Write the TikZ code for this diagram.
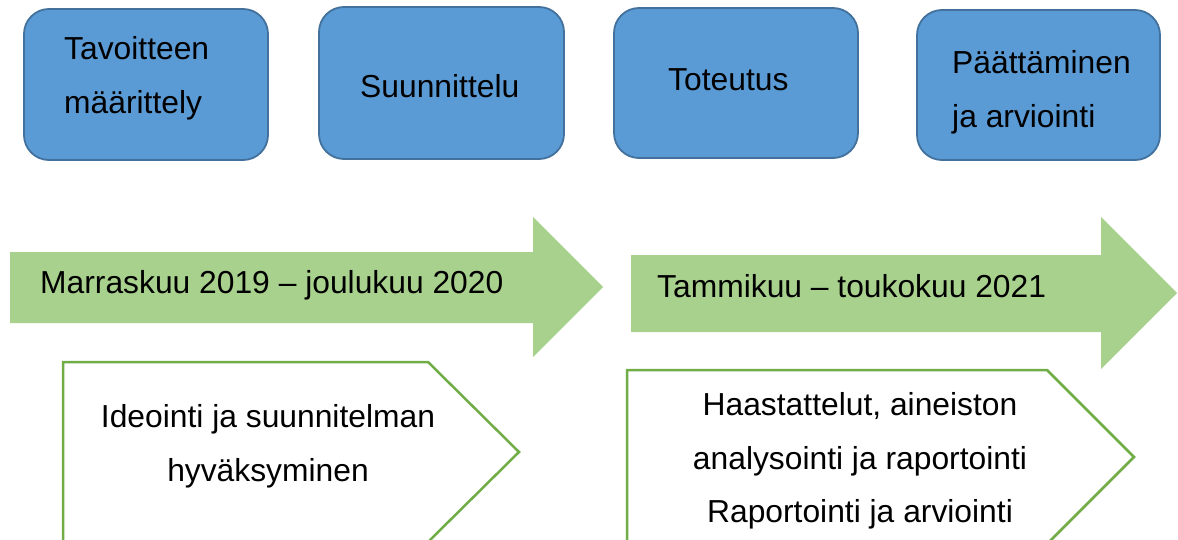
\documentclass[tikz,border=0pt]{standalone}
\usepackage{fontspec}
\setmainfont{Liberation Sans}
\definecolor{boxblue}{HTML}{5B9BD5}
\definecolor{boxedge}{HTML}{41719C}
\definecolor{arrowgreen}{HTML}{A9D18E}
\definecolor{pentedge}{HTML}{70AD47}
\begin{document}
\begin{tikzpicture}[x=1pt,y=-1pt,
  phase/.style={draw=boxedge, fill=boxblue, line width=1.8pt, rounded corners=25pt, inner sep=0pt},
  txt/.style={font=\fontsize{31.8}{36}\selectfont, inner sep=0pt, text=black},
  ltxt/.style={txt, anchor=base west},
  ctxt/.style={txt, anchor=base},
  timearrow/.style={fill=arrowgreen},
  pent/.style={draw=pentedge, fill=white, line width=2.5pt, line join=miter}]
\useasboundingbox (0,0) rectangle (1178,540);
\clip (0,0) rectangle (1178,540);

% phase boxes
\node[phase, minimum width=244pt, minimum height=151pt] (b1) at (146,84.5) {};
\node[phase, minimum width=245pt, minimum height=152pt] (b2) at (441.5,83) {};
\node[phase, minimum width=244pt, minimum height=150pt] (b3) at (736,83) {};
\node[phase, minimum width=243pt, minimum height=150pt] (b4) at (1038.5,85) {};

\node[ltxt] (t1a) at (64,60) {Tavoitteen};
\node[ltxt] (t1b) at (64,114) {määrittely};
\node[ltxt] (t2) at (360,98) {Suunnittelu};
\node[ltxt] (t3) at (668,91) {Toteutus};
\node[ltxt] (t4a) at (952,74) {Päättäminen};
\node[ltxt] (t4b) at (952,128) {ja arviointi};

% time arrows
\fill[timearrow] (10,252) -- (533,252) -- (533,217) -- (603,287) -- (533,357) -- (533,323) -- (10,323) -- cycle;
\fill[timearrow] (631,255) -- (1101,255) -- (1101,217) -- (1177,293) -- (1101,369) -- (1101,332) -- (631,332) -- cycle;
\node[ltxt] (a1) at (40,293) {Marraskuu 2019 – joulukuu 2020};
\node[ltxt] (a2) at (657,297) {Tammikuu – toukokuu 2021};

% task pentagons
\draw[pent] (63,362) -- (428,362) -- (519,452) -- (428,542) -- (63,542) -- cycle;
\draw[pent] (627,370) -- (1047,370) -- (1134,457) -- (1047,544) -- (627,544) -- cycle;
\node[ctxt] (p1a) at (268,427) {Ideointi ja suunnitelman};
\node[ctxt] (p1b) at (268,481) {hyväksyminen};
\node[ctxt] (p2a) at (860,415) {Haastattelut, aineiston};
\node[ctxt] (p2b) at (860,469) {analysointi ja raportointi};
\node[ctxt] (p2c) at (860,522) {Raportointi ja arviointi};
\end{tikzpicture}
\end{document}
